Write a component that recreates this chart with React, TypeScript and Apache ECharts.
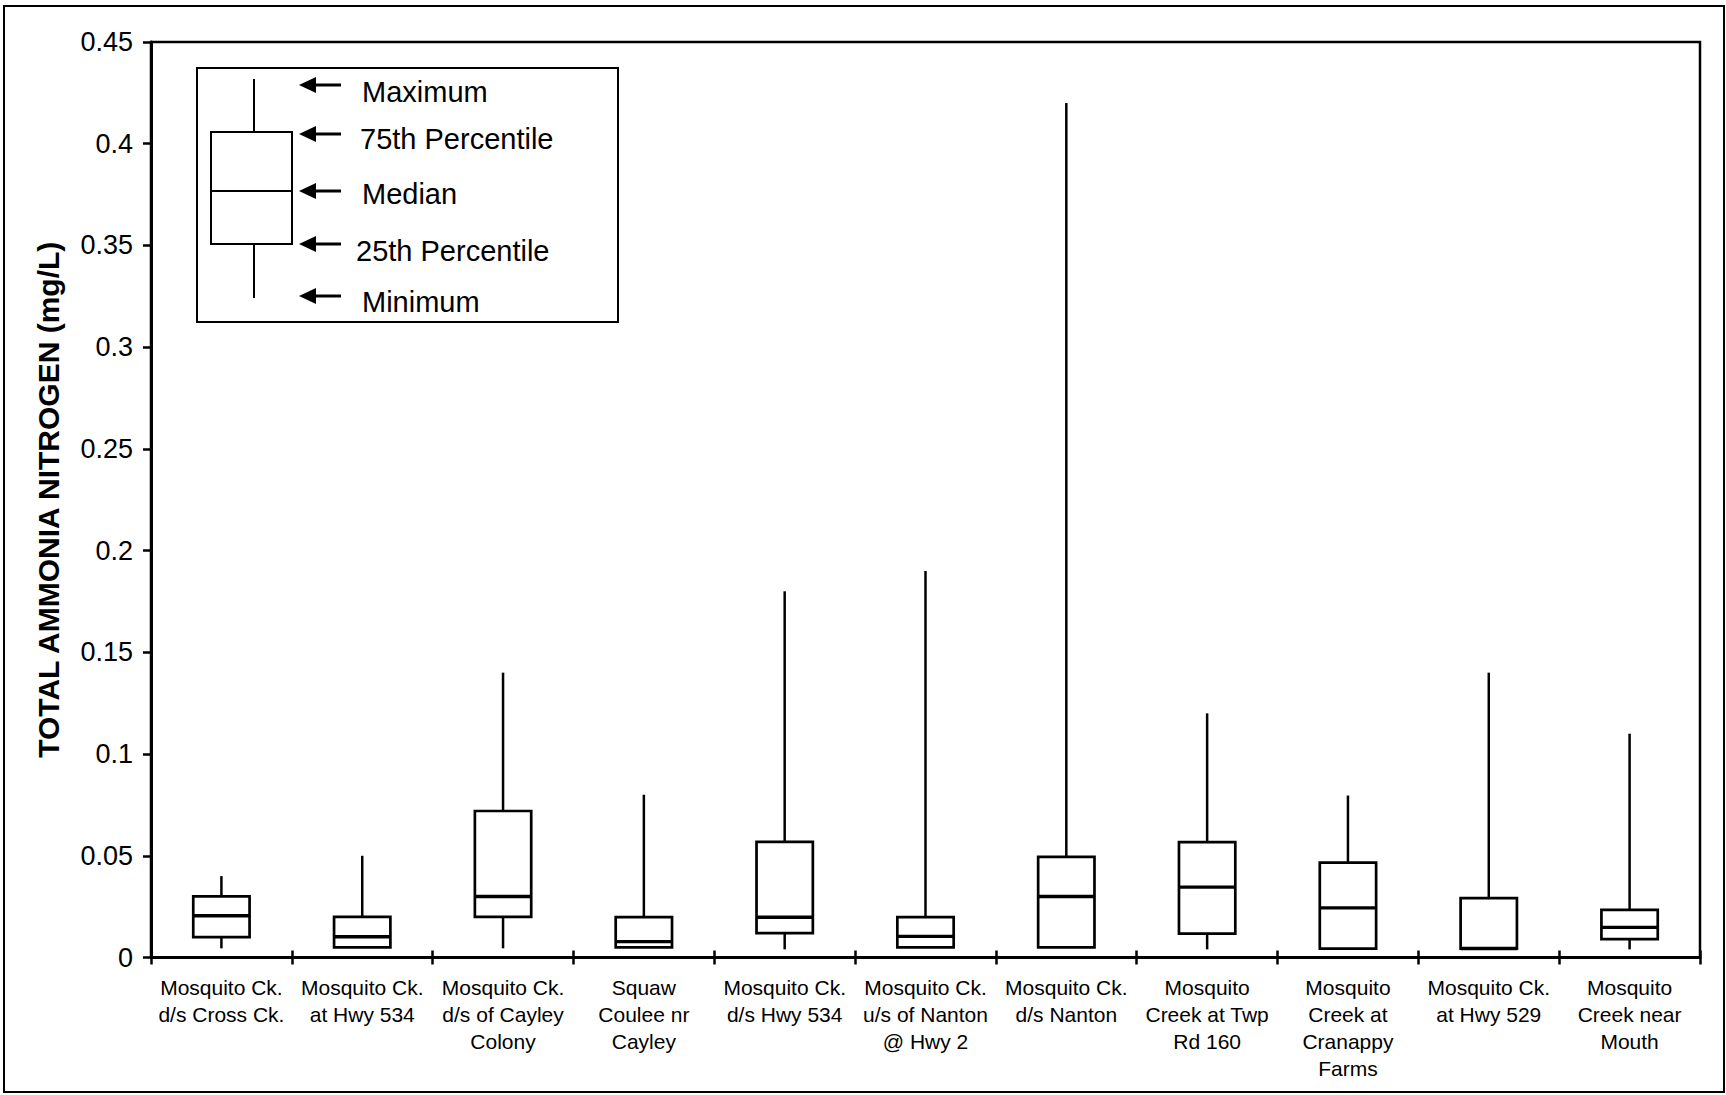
import React, { useEffect, useRef } from "react";
import * as echarts from "echarts";

const categories = [
  "Mosquito Ck.\nd/s Cross Ck.",
  "Mosquito Ck.\nat Hwy 534",
  "Mosquito Ck.\nd/s of Cayley\nColony",
  "Squaw\nCoulee nr\nCayley",
  "Mosquito Ck.\nd/s Hwy 534",
  "Mosquito Ck.\nu/s of Nanton\n@ Hwy 2",
  "Mosquito Ck.\nd/s Nanton",
  "Mosquito\nCreek at Twp\nRd 160",
  "Mosquito\nCreek at\nCranappy\nFarms",
  "Mosquito Ck.\nat Hwy 529",
  "Mosquito\nCreek near\nMouth",
];

const minimum = [0.0045, 0.005, 0.0045, 0.005, 0.004, 0.005, 0.005, 0.004, 0.0044, 0.0044, 0.004];
const q1 = [0.01, 0.005, 0.02, 0.005, 0.012, 0.005, 0.005, 0.0117, 0.0044, 0.0044, 0.009];
const median = [0.0205, 0.0102, 0.03, 0.0078, 0.0198, 0.0104, 0.03, 0.0346, 0.0244, 0.0044, 0.0148];
const q3 = [0.03, 0.02, 0.072, 0.0198, 0.0568, 0.0198, 0.0495, 0.0567, 0.0466, 0.0292, 0.0234];
const maximum = [0.04, 0.05, 0.14, 0.08, 0.18, 0.19, 0.42, 0.12, 0.0796, 0.14, 0.11];

const legendLabels = ["Maximum", "75th Percentile", "Median", "25th Percentile", "Minimum"];

const FONT = "'Liberation Sans', Arial, Helvetica, sans-serif";

export default function App() {
  const ref = useRef<HTMLDivElement>(null);

  useEffect(() => {
    if (!ref.current) return;
    const chart = echarts.init(ref.current, undefined, { renderer: "svg" });

    const data = categories.map((_, i) => [i, minimum[i], q1[i], median[i], q3[i], maximum[i]]);

    const arrowYs = [85, 134, 191, 244, 296];
    const textPos = [
      { x: 362, y: 92 },
      { x: 360, y: 139 },
      { x: 362, y: 194 },
      { x: 356, y: 251 },
      { x: 362, y: 302 },
    ];
    const legendEls: any[] = [
      {
        type: "rect",
        shape: { x: 197, y: 68, width: 421, height: 254 },
        style: { fill: "#fff", stroke: "#000", lineWidth: 2 },
        z: 10,
      },
      {
        type: "line",
        shape: { x1: 254, y1: 79, x2: 254, y2: 132 },
        style: { stroke: "#000", lineWidth: 2 },
        z: 11,
      },
      {
        type: "line",
        shape: { x1: 254, y1: 244, x2: 254, y2: 298 },
        style: { stroke: "#000", lineWidth: 2 },
        z: 11,
      },
      {
        type: "rect",
        shape: { x: 211, y: 132, width: 81, height: 112 },
        style: { fill: "#fff", stroke: "#000", lineWidth: 2 },
        z: 11,
      },
      {
        type: "line",
        shape: { x1: 211, y1: 191, x2: 292, y2: 191 },
        style: { stroke: "#000", lineWidth: 2 },
        z: 11,
      },
    ];
    arrowYs.forEach((y) => {
      legendEls.push({
        type: "polygon",
        shape: { points: [[299, y], [316, y - 8], [316, y + 8]] },
        style: { fill: "#000" },
        z: 11,
      });
      legendEls.push({
        type: "line",
        shape: { x1: 312, y1: y, x2: 341, y2: y },
        style: { stroke: "#000", lineWidth: 3 },
        z: 11,
      });
    });
    legendLabels.forEach((t, i) => {
      legendEls.push({
        type: "text",
        x: textPos[i].x,
        y: textPos[i].y,
        style: {
          text: t,
          fill: "#000",
          font: `29px ${FONT}`,
          textAlign: "left",
          textVerticalAlign: "middle",
        },
        z: 11,
      });
    });

    const option: any = {
      animation: false,
      backgroundColor: "#fff",
      textStyle: { fontFamily: FONT, color: "#000" },
      grid: {
        left: 151,
        right: 26,
        top: 42,
        bottom: 137.5,
        show: true,
        borderColor: "#000",
        borderWidth: 2.5,
        backgroundColor: "transparent",
      },
      xAxis: [
        {
          type: "category",
          data: categories,
          position: "bottom",
          boundaryGap: true,
          axisLine: { show: true, lineStyle: { color: "#000", width: 3 } },
          axisTick: { show: true, interval: 0, alignWithLabel: false, length: 7, lineStyle: { color: "#000", width: 2.5 } },
          axisLabel: {
            interval: 0,
            color: "#000",
            fontSize: 21,
            lineHeight: 27,
            fontFamily: FONT,
            margin: 16,
            align: "center",
          },
          splitLine: { show: false },
        },
        {
          type: "category",
          data: categories,
          position: "bottom",
          boundaryGap: true,
          axisLine: { show: false },
          axisTick: { show: true, inside: true, interval: 0, alignWithLabel: false, length: 7, lineStyle: { color: "#000", width: 2.5 } },
          axisLabel: { show: false },
          splitLine: { show: false },
        },
      ],
      yAxis: {
        type: "value",
        min: 0,
        max: 0.45,
        interval: 0.05,
        name: "TOTAL AMMONIA NITROGEN (mg/L)",
        nameLocation: "middle",
        nameGap: 88,
        nameTextStyle: { fontSize: 30, fontWeight: "bold", color: "#000", fontFamily: FONT },
        axisLine: { show: true, lineStyle: { color: "#000", width: 3 } },
        axisTick: { show: true, length: 8, lineStyle: { color: "#000", width: 2.5 } },
        axisLabel: { color: "#000", fontSize: 27, fontFamily: FONT, margin: 18 },
        splitLine: { show: false },
      },
      series: [
        {
          type: "custom",
          xAxisIndex: 0,
          encode: { x: 0, y: [1, 2, 3, 4, 5] },
          data,
          renderItem: (params: any, api: any) => {
            const i = api.value(0);
            const pMin = api.coord([i, api.value(1)]);
            const pQ1 = api.coord([i, api.value(2)]);
            const pMed = api.coord([i, api.value(3)]);
            const pQ3 = api.coord([i, api.value(4)]);
            const pMax = api.coord([i, api.value(5)]);
            const w = api.size([1, 0])[0] * 0.4;
            const x = pMin[0];
            const children: any[] = [
              {
                type: "line",
                shape: { x1: x, y1: pMax[1], x2: x, y2: pQ3[1] },
                style: { stroke: "#000", lineWidth: 2.5 },
              },
              {
                type: "line",
                shape: { x1: x, y1: pQ1[1], x2: x, y2: pMin[1] },
                style: { stroke: "#000", lineWidth: 2.5 },
              },
              {
                type: "rect",
                shape: { x: x - w / 2, y: pQ3[1], width: w, height: pQ1[1] - pQ3[1] },
                style: { fill: "#fff", stroke: "#000", lineWidth: 2.7 },
              },
              {
                type: "line",
                shape: { x1: x - w / 2, y1: pMed[1], x2: x + w / 2, y2: pMed[1] },
                style: { stroke: "#000", lineWidth: 3.4 },
              },
            ];
            return { type: "group", children };
          },
        },
      ],
      graphic: [
        {
          type: "rect",
          shape: { x: 4, y: 6, width: 1720, height: 1086 },
          style: { fill: "none", stroke: "#000", lineWidth: 2 },
          silent: true,
        },
        ...legendEls,
      ],
    };

    chart.setOption(option);
    return () => chart.dispose();
  }, []);

  return (
    <div
      ref={ref}
      style={{ position: "absolute", left: 0, top: 0, width: 1726, height: 1095, background: "#fff" }}
    />
  );
}
